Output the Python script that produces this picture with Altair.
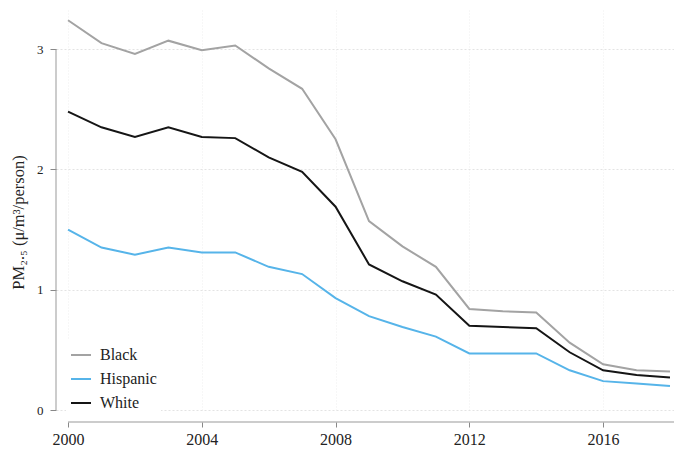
import altair as alt
import pandas as pd

# PM2.5 exposure per person by group, 2000-2018
years = list(range(2000, 2019))
black = [3.24, 3.05, 2.96, 3.07, 2.99, 3.03, 2.84, 2.67, 2.25, 1.57, 1.36, 1.19,
         0.84, 0.82, 0.81, 0.56, 0.38, 0.33, 0.32]
hispanic = [1.50, 1.35, 1.29, 1.35, 1.31, 1.31, 1.19, 1.13, 0.93, 0.78, 0.69, 0.61,
            0.47, 0.47, 0.47, 0.33, 0.24, 0.22, 0.20]
white = [2.48, 2.35, 2.27, 2.35, 2.27, 2.26, 2.10, 1.98, 1.69, 1.21, 1.07, 0.96,
         0.70, 0.69, 0.68, 0.48, 0.33, 0.29, 0.27]

groups = ["Black", "Hispanic", "White"]
colors = ["#a3a3a3", "#56b4e9", "#151515"]
x_ticks = [2000, 2004, 2008, 2012, 2016]
y_ticks = [0, 1, 2, 3]

rows = []
for name, vals in zip(groups, [black, hispanic, white]):
    for yr, v in zip(years, vals):
        rows.append({"year": yr, "group": name, "pm": v})
df = pd.DataFrame(rows)

FONT = "'Liberation Serif', 'Times New Roman', serif"
X_MIN, X_MAX = 1999.64, 2018.12

x_scale = alt.Scale(domain=[X_MIN, X_MAX], nice=False, zero=False)
y_scale = alt.Scale(domain=[0, 3.325], nice=False)

lines = alt.Chart(df).mark_line(strokeWidth=2).encode(
    x=alt.X("year:Q", scale=x_scale,
            axis=alt.Axis(values=x_ticks, format="d", title=None, domain=False,
                          offset=12, tickSize=5, tickColor="#888888", tickWidth=1,
                          labelFontSize=16, labelColor="#222222", labelPadding=4,
                          grid=True, gridColor="#eeeeee", gridDash=[1, 2],
                          labelFont=FONT)),
    y=alt.Y("pm:Q", scale=y_scale,
            axis=alt.Axis(values=y_ticks, format="d", title="PM₂.₅ (μ/m³/person)",
                          domain=False, tickSize=6, tickColor="#888888", tickWidth=1,
                          labelFontSize=13, labelColor="#222222", labelPadding=7,
                          labelFont=FONT, titleFont=FONT, titleFontSize=16.5,
                          titleFontWeight="normal", titleColor="#222222",
                          titlePadding=10, titleY=212,
                          grid=True, gridColor="#e3e3e3", gridDash=[2, 2])),
    color=alt.Color("group:N", scale=alt.Scale(domain=groups, range=colors),
                    legend=alt.Legend(title=None, orient="none", legendX=10,
                                      legendY=330, symbolType="stroke",
                                      symbolSize=400, symbolStrokeWidth=2,
                                      labelFont=FONT, labelFontSize=16,
                                      labelColor="#222222", rowPadding=5,
                                      fillColor="white", padding=4,
                                      labelOffset=8)),
)

# axis lines spanning only the labelled range
y_span = pd.DataFrame({"pm": [0], "pm_end": [3]})
x_span = pd.DataFrame({"year": [2000], "year_end": [X_MAX]})

y_line = alt.Chart(y_span).mark_rule(color="#999999", strokeWidth=1).encode(
    x=alt.value(0),
    y=alt.Y("pm:Q", scale=y_scale, axis=None),
    y2="pm_end:Q",
)
x_line = alt.Chart(x_span).mark_rule(color="#999999", strokeWidth=1).encode(
    x=alt.X("year:Q", scale=x_scale, axis=None),
    x2="year_end:Q",
    y=alt.value(412),
)

chart = alt.layer(lines, y_line, x_line).resolve_axis(
    x="independent", y="independent"
).properties(
    width=618, height=400,
    padding={"left": 56, "top": 10, "right": 0, "bottom": 45},
    autosize=alt.AutoSizeParams(type="none"),
).configure(
    font=FONT
).configure_legend(
    labelFont=FONT
).configure_view(stroke=None)

chart.save("out.html", embed_options={"renderer": "svg", "actions": False})
